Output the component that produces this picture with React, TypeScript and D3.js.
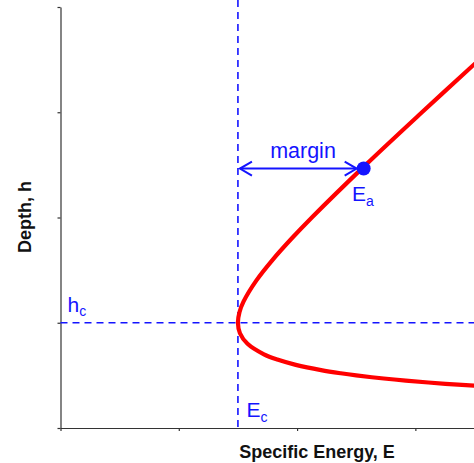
import React, { useRef, useEffect } from "react";
import * as d3 from "d3";

// specific energy curve (E, h)
const curveDepth = [0.4, 0.42, 0.45, 0.47, 0.5, 0.52, 0.55, 0.6, 0.65, 0.7, 0.8, 0.9, 1.0, 1.1, 1.2, 1.4, 1.6, 1.8, 2.0, 2.5, 3.0, 3.5, 3.7];
const curveEnergy = [3.525, 3.254, 2.919, 2.733, 2.5, 2.369, 2.203, 1.989, 1.833, 1.72, 1.581, 1.517, 1.5, 1.513, 1.547, 1.655, 1.795, 1.954, 2.125, 2.58, 3.056, 3.541, 3.737];

const xTicks = [0, 1, 2, 3];
const yTicks = [0, 1, 2, 3, 4];

const criticalEnergy = 1.5;
const criticalDepth = 1.0;
const pointA = { E: 2.563, h: 2.465 };

const W = 474;
const H = 463;

const App = () => {
  const svgRef = useRef<SVGSVGElement>(null);

  useEffect(() => {
    const svg = d3.select(svgRef.current);
    svg.selectAll("*").remove();

    const font = "'Liberation Sans', Arial, sans-serif";
    const blue = "#1414ff";

    const x = d3.scaleLinear().domain([0, 3.5]).range([60.5, 474.5]);
    const y = d3.scaleLinear().domain([0, 4]).range([428, 7]);

    // axes
    svg
      .append("g")
      .attr("transform", `translate(0, ${y(0)})`)
      .call(d3.axisBottom(x).tickValues(xTicks).tickSize(3).tickSizeOuter(0).tickFormat(() => ""))
      .call(g => g.selectAll("path, line").attr("stroke", "#333").attr("stroke-width", 1.2));

    svg
      .append("g")
      .attr("transform", `translate(${x(0)}, 0)`)
      .call(d3.axisLeft(y).tickValues(yTicks).tickSize(3).tickSizeOuter(0).tickFormat(() => ""))
      .call(g => g.selectAll("path, line").attr("stroke", "#333").attr("stroke-width", 1.2));

    // critical lines
    svg
      .append("line")
      .attr("x1", x(criticalEnergy))
      .attr("x2", x(criticalEnergy))
      .attr("y1", 0)
      .attr("y2", y(0))
      .attr("stroke", blue)
      .attr("stroke-width", 1.6)
      .attr("stroke-dasharray", "7,5");

    svg
      .append("line")
      .attr("x1", x(0))
      .attr("x2", W)
      .attr("y1", y(criticalDepth))
      .attr("y2", y(criticalDepth))
      .attr("stroke", blue)
      .attr("stroke-width", 1.6)
      .attr("stroke-dasharray", "7,5");

    // E-h curve
    const pts = curveDepth.map((h, i) => [curveEnergy[i], h] as [number, number]);
    const line = d3
      .line<[number, number]>()
      .x(d => x(d[0]))
      .y(d => y(d[1]))
      .curve(d3.curveCatmullRom.alpha(0.5));

    svg
      .append("path")
      .datum(pts)
      .attr("fill", "none")
      .attr("stroke", "#ff0000")
      .attr("stroke-width", 4.2)
      .attr("d", line);

    // margin arrow
    const ay = y(pointA.h);
    const x0 = x(criticalEnergy) + 2;
    const x1 = x(pointA.E) - 7;
    const arrow = svg.append("g").attr("stroke", blue).attr("stroke-width", 2).attr("fill", "none");
    arrow.append("line").attr("x1", x0).attr("x2", x1).attr("y1", ay).attr("y2", ay);
    arrow.append("path").attr("d", `M${x0 + 12},${ay - 7}L${x0},${ay}L${x0 + 12},${ay + 7}`);
    arrow.append("path").attr("d", `M${x1 - 12},${ay - 7}L${x1},${ay}L${x1 - 12},${ay + 7}`);

    svg
      .append("circle")
      .attr("cx", x(pointA.E))
      .attr("cy", ay)
      .attr("r", 7)
      .attr("fill", blue);

    svg
      .append("text")
      .attr("x", 303)
      .attr("y", ay - 10.5)
      .attr("text-anchor", "middle")
      .attr("font-family", font)
      .attr("font-size", 21.5)
      .attr("fill", blue)
      .text("margin");

    const subLabel = (lx: number, ly: number, main: string, sub: string, dy: number) => {
      const t = svg
        .append("text")
        .attr("x", lx)
        .attr("y", ly)
        .attr("font-family", font)
        .attr("font-size", 21)
        .attr("fill", blue);
      t.append("tspan").text(main);
      t.append("tspan").attr("font-size", 14).attr("dy", dy).text(sub);
    };

    subLabel(352, 201, "E", "a", 4.5);
    subLabel(67.5, 312, "h", "c", 4);
    subLabel(246.5, 417, "E", "c", 5);

    // axis titles
    svg
      .append("text")
      .attr("x", 317)
      .attr("y", 458)
      .attr("text-anchor", "middle")
      .attr("font-family", font)
      .attr("font-weight", "bold")
      .attr("font-size", 18)
      .attr("fill", "#111")
      .text("Specific Energy, E");

    svg
      .append("text")
      .attr("transform", `translate(31, 217) rotate(-90)`)
      .attr("text-anchor", "middle")
      .attr("font-family", font)
      .attr("font-weight", "bold")
      .attr("font-size", 18)
      .attr("fill", "#111")
      .text("Depth, h");
  }, []);

  return (
    <svg
      ref={svgRef}
      width={W}
      height={H}
      style={{ position: "absolute", left: 0, top: 0, background: "#fff" }}
    ></svg>
  );
};

export default App;
